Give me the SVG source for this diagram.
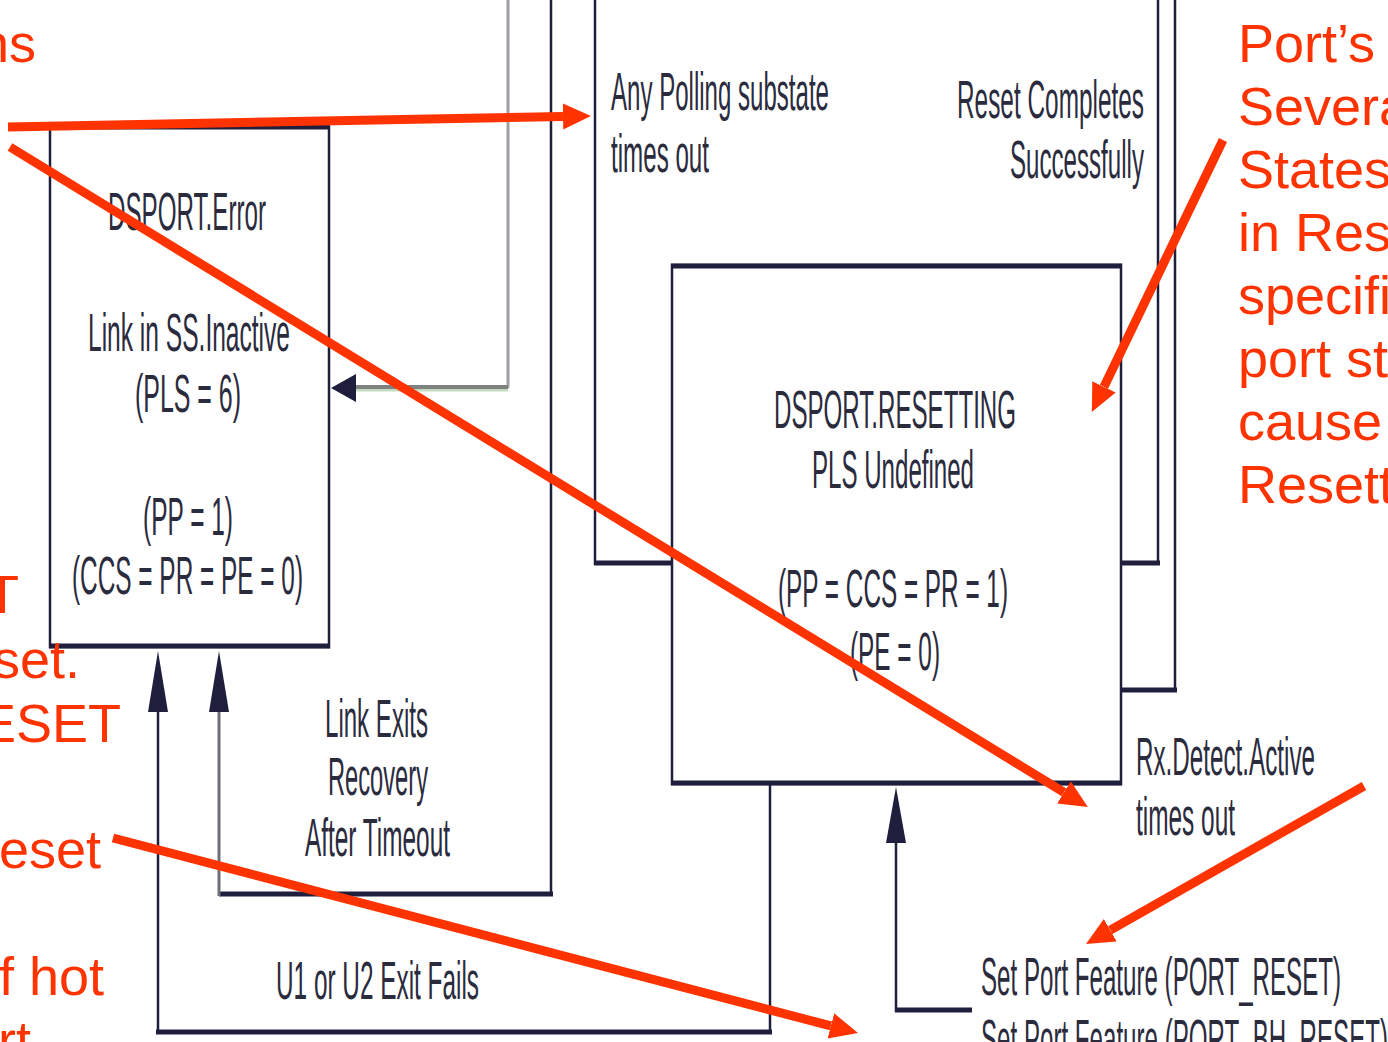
<svg xmlns="http://www.w3.org/2000/svg" width="1388" height="1042" viewBox="0 0 1388 1042">
<style>
.ln{fill:none;stroke:#1f1f3d;stroke-width:2.5}
.hv{fill:none;stroke:#1f1f3d;stroke-width:5}
.gr{fill:none;stroke:#a0a0a4;stroke-width:3}
.gr2{fill:none;stroke:#808080;stroke-width:4}
.ah{fill:#1f1f3d}
.t{font-family:"Liberation Sans",Arial,sans-serif;font-size:54px;fill:#2b2b3e}
.r{font-family:"Liberation Sans",Arial,sans-serif;font-size:54px;fill:#ff3300}
.ra{fill:none;stroke:#ff3300;stroke-width:9}
</style>
<defs>
<marker id="rh" markerUnits="userSpaceOnUse" markerWidth="30" markerHeight="30" viewBox="0 -15 30 30" refX="0" refY="0" orient="auto">
<path d="M0,-13 L28,0 L0,13 z" fill="#ff3300"/>
</marker>
</defs>
<rect width="1388" height="1042" fill="#ffffff"/>

<g id="connectors">
<!-- grey loop into Error box -->
<polyline class="gr" points="508,0 508,388"/>
<line x1="356" y1="390" x2="508" y2="390" stroke="#c2dcc2" stroke-width="3"/>
<line class="gr2" x1="356" y1="387" x2="508" y2="387"/>
<polygon class="ah" points="331,388 356,374 356,402"/>
<!-- link exits recovery -->
<polyline class="ln" points="551,0 551,894"/>
<line class="hv" x1="219" y1="894" x2="553" y2="894"/>
<line x1="219" y1="712" x2="219" y2="896" stroke="#6e6e78" stroke-width="3"/>
<polygon class="ah" points="219,651 209,712 229,712"/>
<!-- U1 or U2 exit fails -->
<polyline class="ln" points="158,712 158,1032"/>
<line class="hv" x1="156" y1="1032" x2="772" y2="1032"/>
<line class="ln" x1="770" y1="785" x2="770" y2="1034"/>
<polygon class="ah" points="158,651 148,712 168,712"/>
<!-- polling box lines -->
<line class="ln" x1="595" y1="0" x2="595" y2="565"/>
<line class="hv" x1="594" y1="563" x2="672" y2="563"/>
<line class="ln" x1="1158" y1="0" x2="1158" y2="565"/>
<line class="hv" x1="1121" y1="563" x2="1160" y2="563"/>
<line class="ln" x1="1175" y1="0" x2="1175" y2="692"/>
<line class="hv" x1="1121" y1="690" x2="1177" y2="690"/>
<!-- set port feature -->
<line class="ln" x1="896" y1="843" x2="896" y2="1012"/>
<line class="hv" x1="895" y1="1010" x2="972" y2="1010"/>
<polygon class="ah" points="896,787 886,843 906,843"/>
</g>

<g id="node-error">
<rect class="ln" x="50" y="127" width="279" height="520"/>
<line class="hv" x1="49" y1="127" x2="330" y2="127"/>
<line class="hv" x1="49" y1="646" x2="330" y2="646"/>
<text class="t" x="108" y="230" textLength="158" lengthAdjust="spacingAndGlyphs">DSPORT.Error</text>
<text class="t" x="88" y="351" textLength="202" lengthAdjust="spacingAndGlyphs">Link in SS.Inactive</text>
<text class="t" x="135" y="412" textLength="106" lengthAdjust="spacingAndGlyphs">(PLS = 6)</text>
<text class="t" x="143" y="535" textLength="90" lengthAdjust="spacingAndGlyphs">(PP = 1)</text>
<text class="t" x="72" y="594" textLength="231" lengthAdjust="spacingAndGlyphs">(CCS = PR = PE = 0)</text>
</g>

<g id="node-resetting">
<rect class="ln" x="672" y="265" width="449" height="519"/>
<line class="hv" x1="671" y1="266" x2="1122" y2="266"/>
<line class="hv" x1="671" y1="783" x2="1122" y2="783"/>
<text class="t" x="774" y="428" textLength="242" lengthAdjust="spacingAndGlyphs">DSPORT.RESETTING</text>
<text class="t" x="812" y="488" textLength="162" lengthAdjust="spacingAndGlyphs">PLS Undefined</text>
<text class="t" x="778" y="607" textLength="230" lengthAdjust="spacingAndGlyphs">(PP = CCS = PR = 1)</text>
<text class="t" x="850" y="670" textLength="90" lengthAdjust="spacingAndGlyphs">(PE = 0)</text>
</g>

<g id="labels">
<text class="t" x="611" y="110" textLength="218" lengthAdjust="spacingAndGlyphs">Any Polling substate</text>
<text class="t" x="611" y="172" textLength="98" lengthAdjust="spacingAndGlyphs">times out</text>
<text class="t" x="957" y="118" textLength="187" lengthAdjust="spacingAndGlyphs">Reset Completes</text>
<text class="t" x="1010" y="178" textLength="134" lengthAdjust="spacingAndGlyphs">Successfully</text>
<text class="t" x="325" y="737" textLength="103" lengthAdjust="spacingAndGlyphs">Link Exits</text>
<text class="t" x="328" y="795" textLength="100" lengthAdjust="spacingAndGlyphs">Recovery</text>
<text class="t" x="305" y="856" textLength="145" lengthAdjust="spacingAndGlyphs">After Timeout</text>
<text class="t" x="276" y="999" textLength="203" lengthAdjust="spacingAndGlyphs">U1 or U2 Exit Fails</text>
<text class="t" x="1136" y="775" textLength="179" lengthAdjust="spacingAndGlyphs">Rx.Detect.Active</text>
<text class="t" x="1136" y="835" textLength="99" lengthAdjust="spacingAndGlyphs">times out</text>
<text class="t" x="981" y="995" textLength="360" lengthAdjust="spacingAndGlyphs">Set Port Feature (PORT_RESET)</text>
<text class="t" x="981" y="1057" textLength="407" lengthAdjust="spacingAndGlyphs">Set Port Feature (PORT_BH_RESET)</text>
</g>

<g id="annotations">
<text class="r" x="36" y="62" text-anchor="end">ns</text>
<text class="r" x="19" y="613" text-anchor="end">T</text>
<text class="r" x="80" y="678" text-anchor="end">set.</text>
<text class="r" x="121" y="742" text-anchor="end">ESET</text>
<text class="r" x="101" y="868" text-anchor="end">reset</text>
<text class="r" x="104" y="995" text-anchor="end">f hot</text>
<text class="r" x="31" y="1059" text-anchor="end">rt</text>
<text class="r" x="1238" y="62">Port’s</text>
<text class="r" x="1238" y="125">Severa</text>
<text class="r" x="1238" y="188">States</text>
<text class="r" x="1238" y="251">in Res</text>
<text class="r" x="1238" y="314">specific</text>
<text class="r" x="1238" y="377">port sta</text>
<text class="r" x="1238" y="440">cause</text>
<text class="r" x="1238" y="503">Resett</text>
<line class="ra" x1="8" y1="127" x2="563" y2="116.5" marker-end="url(#rh)"/>
<line class="ra" x1="10" y1="147" x2="1064" y2="792.4" marker-end="url(#rh)"/>
<line class="ra" x1="1223" y1="140" x2="1104" y2="386.8" marker-end="url(#rh)"/>
<line class="ra" x1="1364" y1="786" x2="1110.3" y2="930.2" marker-end="url(#rh)"/>
<line class="ra" x1="113" y1="838" x2="830.9" y2="1025.9" marker-end="url(#rh)"/>
</g>
</svg>
